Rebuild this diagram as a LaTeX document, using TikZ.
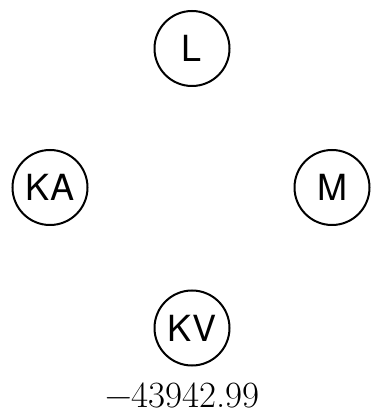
\documentclass[tikz,border=0pt]{standalone}
\usepackage{fontspec}
\newfontfamily\heros{TeX Gyre Heros}
\usepackage{tikz}
\usetikzlibrary{positioning}

\begin{document}
\begin{tikzpicture}[x=1pt,y=1pt,
  ring/.style={circle,draw=black,line width=2pt,minimum size=75pt,inner sep=0pt,
    font=\heros\fontsize{36}{43}\selectfont},
  val/.style={font=\fontsize{37}{44}\selectfont,inner sep=0pt}]
\useasboundingbox (0,0) rectangle (371,415);
\node[ring] (l) at (192,366.5) {L};
\node[ring] (ka) at (50,227.5) {KA};
\node[ring] (m) at (332,227.5) {M};
\node[ring] (kv) at (192,87) {KV};
\node[val] (kvval) at (182.5,20) {−43942.99};
\end{tikzpicture}
\end{document}
